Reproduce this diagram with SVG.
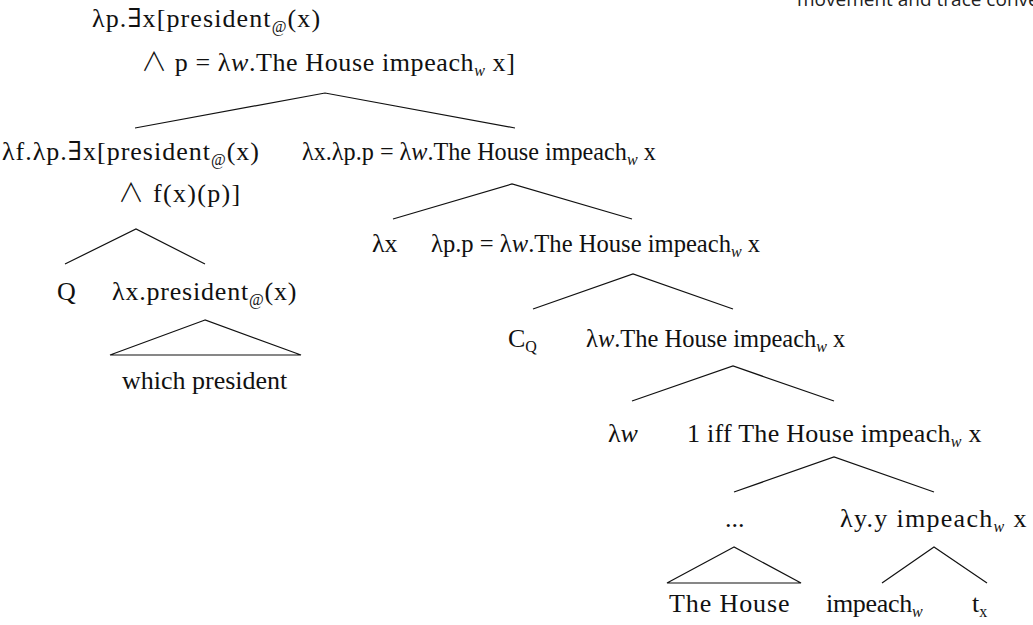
<svg xmlns="http://www.w3.org/2000/svg" width="1033" height="625" viewBox="0 0 1033 625">
<style>
text{font-family:"Liberation Serif","DejaVu Serif",serif;font-size:26px;fill:#111}
.s{font-size:16px}
.i{font-style:italic}
.and{font-family:"Noto Sans CJK JP","DejaVu Serif",sans-serif;font-weight:300}
.cap{font-family:"Open Sans","Noto Sans",sans-serif;font-size:19px;fill:#222}
line,polyline,polygon{stroke:#111;stroke-width:1.2;fill:none}
</style>
<rect width="1033" height="625" fill="#fff"/>
<text class="cap" x="797" y="6">movement and trace conve</text>
<g id="connectors">
<polyline points="135,128 325,93 515,128"/>
<polyline points="65,264 136,229 205,264"/>
<polygon points="205,320 110,355 301,355"/>
<polyline points="393,219 512,184 632,219"/>
<polyline points="533,309 633,274 733,309"/>
<polyline points="632,401 733,366 834,401"/>
<polyline points="734,492 834,457 934,492"/>
<polygon points="734,547 667,583 801,583"/>
<polyline points="882,583 934,547 987,583"/>
</g>
<g id="root">
<text x="92" y="27" letter-spacing="1.1">λp.∃x[president<tspan class="s" dy="5">@</tspan><tspan dy="-5">(x)</tspan></text>
<text x="141" y="71" letter-spacing="0.6"><tspan class="and">∧</tspan> p = λ<tspan class="i">w</tspan>.The House impeach<tspan class="s i" dy="5">w</tspan><tspan dy="-5"> x]</tspan></text>
</g>
<g id="n-left">
<text x="2" y="160" letter-spacing="1">λf.λp.∃x[president<tspan class="s" dy="5">@</tspan><tspan dy="-5">(x)</tspan></text>
<text x="118" y="202" letter-spacing="1.3"><tspan class="and">∧</tspan> f(x)(p)]</text>
</g>
<g id="n-right">
<text x="302" y="160" style="font-size:24.2px">λx.λp.p = λ<tspan class="i">w</tspan>.The House impeach<tspan class="s i" dy="5">w</tspan><tspan dy="-5"> x</tspan></text>
</g>
<g id="n-Q"><text x="57" y="300">Q</text></g>
<g id="n-pres"><text x="112" y="300" letter-spacing="0.8">λx.president<tspan class="s" dy="5">@</tspan><tspan dy="-5">(x)</tspan></text></g>
<g id="n-which"><text x="122" y="389">which president</text></g>
<g id="n-lx"><text x="372" y="252">λx</text></g>
<g id="n-lp"><text x="431" y="252" style="font-size:24.6px">λp.p = λ<tspan class="i">w</tspan>.The House impeach<tspan class="s i" dy="5">w</tspan><tspan dy="-5"> x</tspan></text></g>
<g id="n-CQ"><text x="508" y="347">C<tspan class="s" dy="5">Q</tspan></text></g>
<g id="n-lw1"><text x="586" y="347" style="font-size:24.5px">λ<tspan class="i">w</tspan>.The House impeach<tspan class="s i" dy="5">w</tspan><tspan dy="-5"> x</tspan></text></g>
<g id="n-lw"><text x="608" y="442">λ<tspan class="i">w</tspan></text></g>
<g id="n-iff"><text x="687" y="442" letter-spacing="0.27">1 iff The House impeach<tspan class="s i" dy="5">w</tspan><tspan dy="-5"> x</tspan></text></g>
<g id="n-dots"><text x="725" y="527">...</text></g>
<g id="n-ly"><text x="840" y="527" letter-spacing="1.3">λy.y impeach<tspan class="s i" dy="5">w</tspan><tspan dy="-5"> x</tspan></text></g>
<g id="n-house"><text x="669" y="612" letter-spacing="0.9">The House</text></g>
<g id="n-imp"><text x="826" y="612" letter-spacing="-0.3">impeach<tspan class="s i" dy="5">w</tspan></text></g>
<g id="n-t"><text x="972" y="612">t<tspan class="s" dy="5">x</tspan></text></g>
</svg>
